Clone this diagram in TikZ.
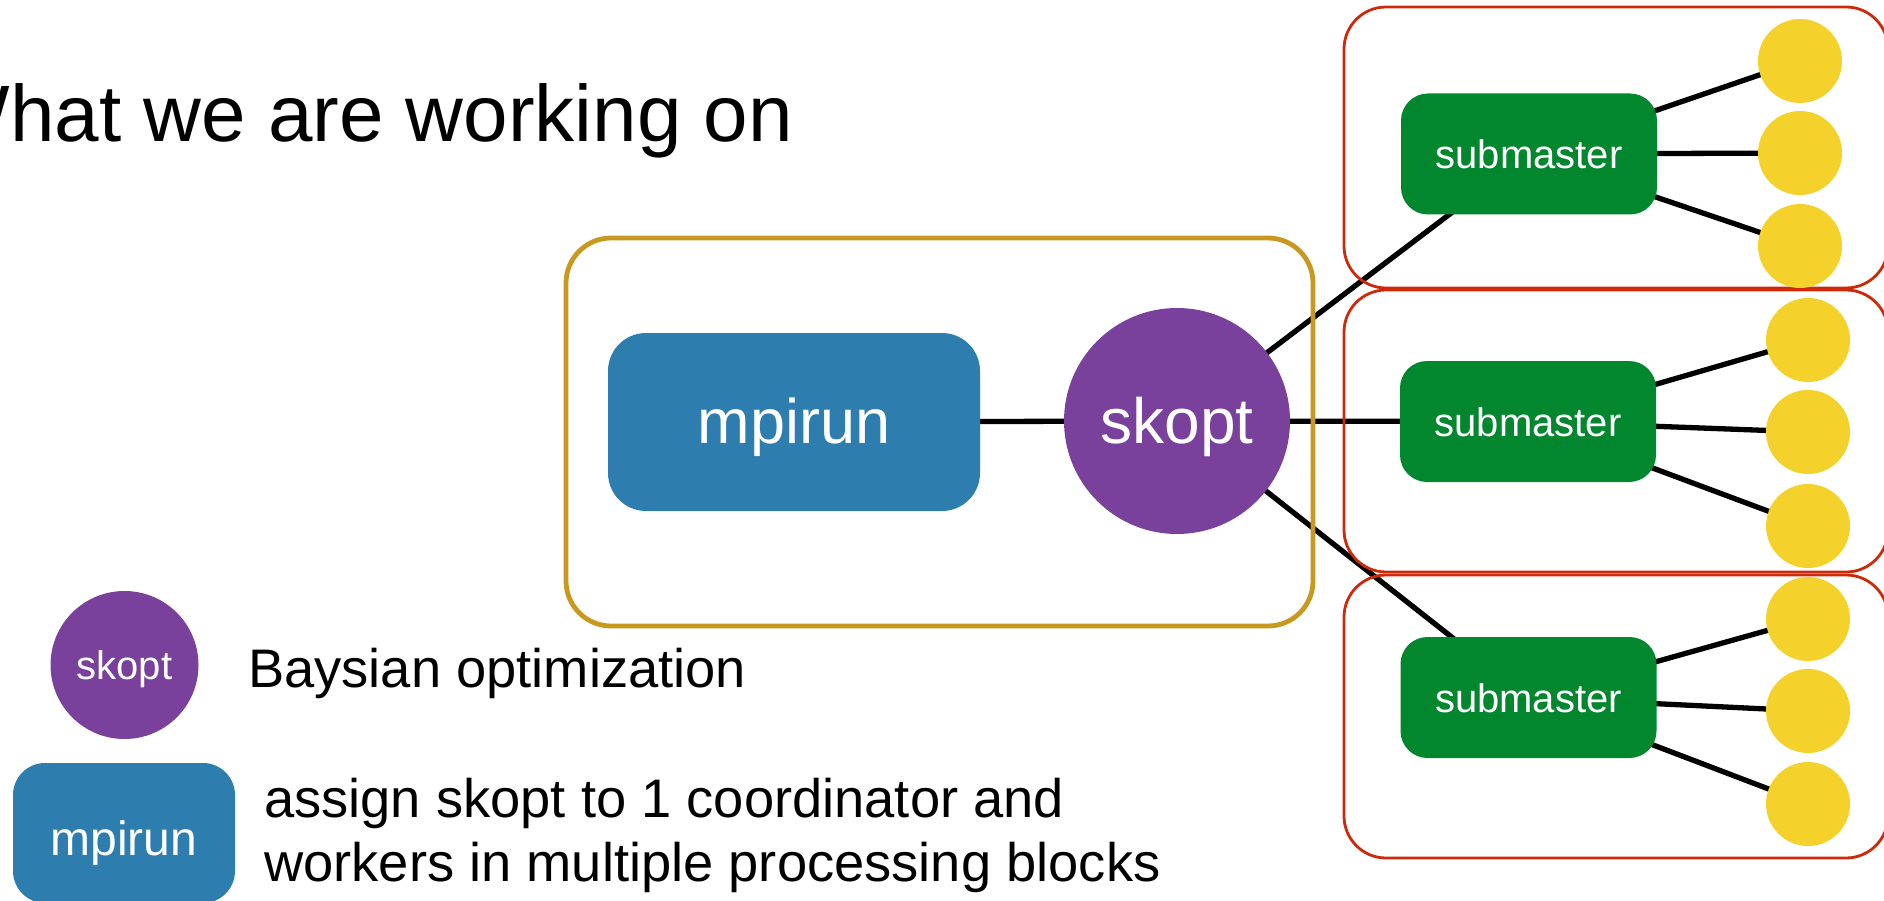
\documentclass[tikz,border=0pt]{standalone}
\usepackage{fontspec}
\setmainfont{Liberation Sans}
\usetikzlibrary{backgrounds}
\definecolor{skpurple}{RGB}{121,64,156}
\definecolor{mpblue}{RGB}{46,125,175}
\definecolor{subgreen}{RGB}{3,135,46}
\definecolor{wkyellow}{RGB}{245,210,43}
\definecolor{goldframe}{RGB}{200,153,30}
\definecolor{redframe}{RGB}{204,42,10}
\tikzset{
  mpbox/.style={rectangle, rounded corners=38pt, fill=mpblue, minimum width=372pt, minimum height=178pt,
    inner sep=0pt, text=white, font=\fontsize{63}{75}\selectfont, text height=47pt, text depth=5pt},
  skcircle/.style={circle, fill=skpurple, minimum size=226pt, inner sep=0pt, text=white,
    font=\fontsize{64}{76}\selectfont, text height=50pt, text depth=6pt},
  subbox/.style={rectangle, rounded corners=27pt, fill=subgreen, minimum width=256pt, minimum height=121pt,
    inner sep=0pt, text=white, font=\fontsize{40}{48}\selectfont, text height=34pt, text depth=4pt},
  worker/.style={circle, fill=wkyellow, minimum size=84pt, inner sep=0pt},
  legsk/.style={circle, fill=skpurple, minimum size=148pt, inner sep=0pt, text=white,
    font=\fontsize{40}{48}\selectfont, text height=32pt, text depth=4pt},
  legmp/.style={rectangle, rounded corners=32pt, fill=mpblue, minimum width=222pt, minimum height=140pt,
    inner sep=0pt, text=white, font=\fontsize{48}{58}\selectfont, text height=48pt, text depth=4pt},
  legtext/.style={anchor=base west, inner sep=0pt, font=\fontsize{54.3}{65}\selectfont},
  conn/.style={line width=5.3pt, black},
  goldbox/.style={draw=goldframe, line width=4.8pt, rounded corners=45pt},
  redbox/.style={draw=redframe, line width=2.8pt, rounded corners=42pt},
}
\begin{document}
\begin{tikzpicture}[x=1pt, y=-1pt]
\useasboundingbox (0,0) rectangle (1884,901);
\clip (0,0) rectangle (1884,901);

% title
\node[anchor=base west, inner sep=0pt, font=\fontsize{80}{96}\selectfont] (title) at (-65.5,142) {What we are working on};

% frames
\draw[goldbox] (566,238) rectangle (1313,626);
\draw[redbox] (1344,7) rectangle (1888,288);
\draw[redbox] (1344,290) rectangle (1888,572);
\draw[redbox] (1344,575) rectangle (1888,858);

% main nodes
\node[mpbox] (mpirun) at (794,422) {mpirun};
\node[skcircle] (skopt) at (1177,421) {skopt};

\node[subbox] (sub1) at (1529,154) {submaster};
\node[subbox] (sub2) at (1528,421.5) {submaster};
\node[subbox] (sub3) at (1528.5,697.5) {submaster};

\node[worker] (w11) at (1800,61) {};
\node[worker] (w12) at (1800,153) {};
\node[worker] (w13) at (1800,246) {};
\node[worker] (w21) at (1808,340) {};
\node[worker] (w22) at (1808,432) {};
\node[worker] (w23) at (1808,526) {};
\node[worker] (w31) at (1808,619) {};
\node[worker] (w32) at (1808,711) {};
\node[worker] (w33) at (1808,804) {};

% legend
\node[legsk] (legskopt) at (124.5,665) {skopt};
\node[legtext] (legskopttext) at (248,687) {Baysian optimization};
\node[legmp] (legmpirun) at (124,833) {mpirun};
\node[legtext] (legmptext1) at (264,817) {assign skopt to 1 coordinator and};
\node[legtext] (legmptext2) at (264,881) {workers in multiple processing blocks};

% connectors
\begin{pgfonlayer}{background}
\draw[conn] (mpirun.center) -- (skopt.center);
\draw[conn] (skopt.center) -- (sub1.center);
\draw[conn] (skopt.center) -- (sub2.center);
\draw[conn] (skopt.center) -- (sub3.center);
\draw[conn] (sub1.center) -- (w11.center);
\draw[conn] (sub1.center) -- (w12.center);
\draw[conn] (sub1.center) -- (w13.center);
\draw[conn] (sub2.center) -- (w21.center);
\draw[conn] (sub2.center) -- (w22.center);
\draw[conn] (sub2.center) -- (w23.center);
\draw[conn] (sub3.center) -- (w31.center);
\draw[conn] (sub3.center) -- (w32.center);
\draw[conn] (sub3.center) -- (w33.center);
\end{pgfonlayer}
\end{tikzpicture}
\end{document}
